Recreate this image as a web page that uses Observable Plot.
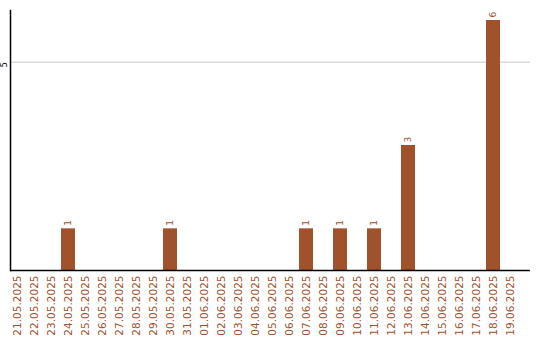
<!DOCTYPE html>
<html>
<head>
<meta charset="utf-8">
<script src="https://cdn.jsdelivr.net/npm/d3@7"></script>
<script src="https://cdn.jsdelivr.net/npm/@observablehq/plot@0.6"></script>
<style>
  html, body { margin: 0; padding: 0; background: #fff; }
  #chart svg { display: block; }
</style>
</head>
<body>
<div id="chart"></div>
<script>
// Daily counts, 21.05.2025 – 19.06.2025
const days = [
  "21.05.2025", "22.05.2025", "23.05.2025", "24.05.2025", "25.05.2025",
  "26.05.2025", "27.05.2025", "28.05.2025", "29.05.2025", "30.05.2025",
  "31.05.2025", "01.06.2025", "02.06.2025", "03.06.2025", "04.06.2025",
  "05.06.2025", "06.06.2025", "07.06.2025", "08.06.2025", "09.06.2025",
  "10.06.2025", "11.06.2025", "12.06.2025", "13.06.2025", "14.06.2025",
  "15.06.2025", "16.06.2025", "17.06.2025", "18.06.2025", "19.06.2025"
];
const counts = [
  0, 0, 0, 1, 0,
  0, 0, 0, 0, 1,
  0, 0, 0, 0, 0,
  0, 0, 1, 0, 1,
  0, 1, 0, 3, 0,
  0, 0, 0, 6, 0
];
const yTicks = [5];

const rows = days.map((d, i) => ({day: d, count: counts[i]}));
const nonZero = rows.filter(r => r.count > 0);

const barColor = "#a0522d";
const labelColor = "#a0522d";

const chart = Plot.plot({
  width: 540,
  height: 340,
  marginTop: 10,
  marginLeft: 10,
  marginRight: 10,
  marginBottom: 70,
  style: {fontFamily: "DejaVu Sans, sans-serif", background: "#fff"},
  x: {domain: days, range: [8.5, 518.5], paddingInner: 0.18, paddingOuter: 0.09, label: null},
  y: {domain: [0, 6.24], label: null, axis: null},
  marks: [
    // horizontal grid line and its rotated tick label
    Plot.ruleY(yTicks, {stroke: "#c8c8c8", strokeWidth: 1}),
    Plot.text(yTicks, {
      y: d => d, text: d => String(d), frameAnchor: "left",
      dx: -6, rotate: -90, textAnchor: "end", fontSize: 8.5, fill: "#000"
    }),
    Plot.barY(nonZero, {x: "day", y: "count", fill: barColor}),
    Plot.text(nonZero, {
      x: "day", y: "count", text: d => String(d.count),
      rotate: -90, textAnchor: "start", dy: -3,
      fill: labelColor, fontSize: 9
    }),
    Plot.axisX({
      tickSize: 0, tickPadding: 5, tickRotate: -90,
      fontSize: 10.5, color: labelColor, label: null
    }),
    Plot.ruleY([0], {stroke: "#000", strokeWidth: 1.5}),
    Plot.frame({anchor: "left", stroke: "#000", strokeWidth: 1.5})
  ]
});

document.getElementById("chart").appendChild(chart);
</script>
</body>
</html>
